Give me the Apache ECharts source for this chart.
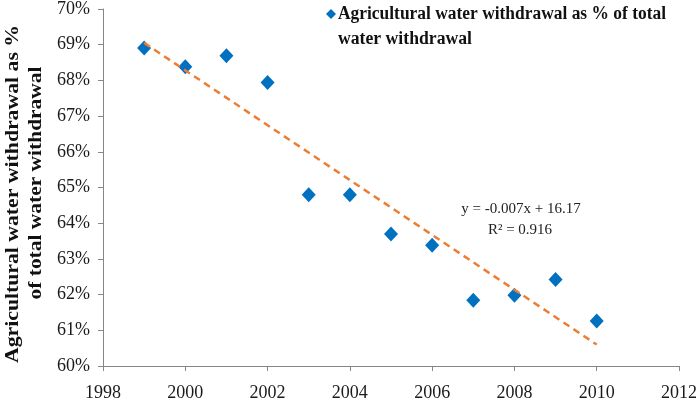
<!DOCTYPE html>
<html>
<head>
<meta charset="utf-8">
<script src="https://cdn.jsdelivr.net/npm/echarts@6/dist/echarts.min.js"></script>
<style>html,body{margin:0;padding:0;background:#fff;}#c{width:700px;height:404px;}</style>
</head>
<body>
<div id="c"></div>
<script>
var years = [1999, 2000, 2001, 2002, 2003, 2004, 2005, 2006, 2007, 2008, 2009, 2010];
var agriShare = [68.91, 68.38, 68.69, 67.94, 64.80, 64.80, 63.70, 63.38, 61.84, 61.98, 62.42, 61.26];
var trendYears = [1999, 2010];
var trendValues = [69.05, 60.60];
var seriesName = 'Agricultural water withdrawal as % of total water withdrawal';
var legendLines = ['Agricultural water withdrawal as % of total', 'water withdrawal'];
var yTitleLines = ['Agricultural water withdrawal as %', 'of total water withdrawal'];
var trendLabel = ['y = -0.007x + 16.17', 'R\u00b2 = 0.916'];

var serif = '"Liberation Serif", "Times New Roman", serif';
var cv = document.createElement('canvas').getContext('2d');
function scaleFor(text, font, target) {
  cv.font = font;
  return target / cv.measureText(text).width;
}
var titleFont = 'bold 19px ' + serif;
var legendFont = 'bold 18px ' + serif;

var chart = echarts.init(document.getElementById('c'));
var option = {
  backgroundColor: '#ffffff',
  animation: false,
  grid: { left: 103, right: 21, top: 8, bottom: 38, containLabel: false },
  xAxis: {
    type: 'value', min: 1998, max: 2012, interval: 2,
    axisLine: { show: true, lineStyle: { color: '#868686', width: 1 } },
    axisTick: { show: true, length: 5, lineStyle: { color: '#868686' } },
    splitLine: { show: false },
    axisLabel: { color: '#1a1a1a', fontFamily: serif, fontSize: 18, margin: 18,
      formatter: function (v) { return String(v); } }
  },
  yAxis: {
    type: 'value', min: 60, max: 70, interval: 1,
    axisLine: { show: true, lineStyle: { color: '#868686', width: 1 } },
    axisTick: { show: true, length: 5, lineStyle: { color: '#868686' } },
    splitLine: { show: false },
    axisLabel: { color: '#1a1a1a', fontFamily: serif, fontSize: 18, margin: 13, formatter: '{value}%' }
  },
  series: [
    {
      name: seriesName, type: 'scatter', symbol: 'diamond', symbolSize: [14, 15],
      itemStyle: { color: '#0070C0', opacity: 1 },
      data: years.map(function (y, i) { return [y, agriShare[i]]; }),
      z: 2
    },
    {
      name: 'trend', type: 'line', symbol: 'none',
      lineStyle: { color: '#ED7D31', width: 2.5, type: [7, 5] },
      data: trendYears.map(function (y, i) { return [y, trendValues[i]]; }),
      z: 3
    }
  ],
  graphic: [
    { type: 'text', x: 13, y: 194, rotation: Math.PI / 2,
      scaleX: scaleFor(yTitleLines[0], titleFont, 338),
      style: { text: yTitleLines[0], font: titleFont, fill: '#111', textAlign: 'center', textVerticalAlign: 'middle' } },
    { type: 'text', x: 36, y: 183, rotation: Math.PI / 2,
      scaleX: scaleFor(yTitleLines[1], titleFont, 233),
      style: { text: yTitleLines[1], font: titleFont, fill: '#111', textAlign: 'center', textVerticalAlign: 'middle' } },
    { type: 'polygon', shape: { points: [[331, 9], [336, 14], [331, 19], [326, 14]] }, style: { fill: '#0070C0' } },
    { type: 'text', x: 338, y: 14,
      scaleX: scaleFor(legendLines[0], legendFont, 328),
      style: { text: legendLines[0], font: legendFont, fill: '#111', textAlign: 'left', textVerticalAlign: 'middle' } },
    { type: 'text', x: 338, y: 39,
      scaleX: scaleFor(legendLines[1], legendFont, 134),
      style: { text: legendLines[1], font: legendFont, fill: '#111', textAlign: 'left', textVerticalAlign: 'middle' } },
    { type: 'text', x: 521, y: 209,
      style: { text: trendLabel[0], font: '15px ' + serif, fill: '#222', textAlign: 'center', textVerticalAlign: 'middle' } },
    { type: 'text', x: 520, y: 230,
      style: { text: trendLabel[1], font: '15px ' + serif, fill: '#222', textAlign: 'center', textVerticalAlign: 'middle' } }
  ]
};
chart.setOption(option);
</script>
</body>
</html>
